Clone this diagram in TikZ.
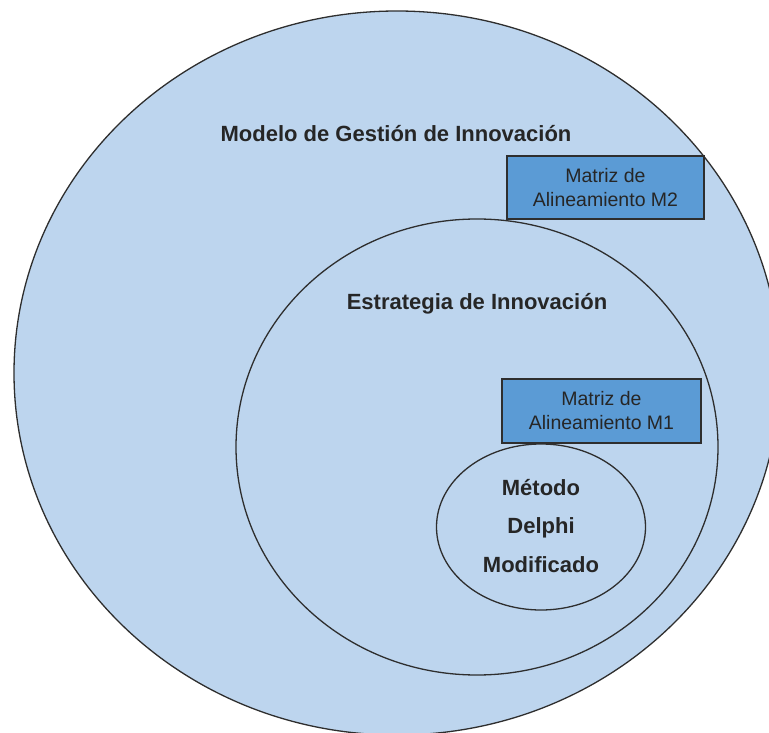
\documentclass[tikz,border=0pt]{standalone}
\usepackage{fontspec}
\setmainfont{Liberation Sans}
\usetikzlibrary{shapes.geometric}
\definecolor{ringblue}{HTML}{BDD5EE}
\definecolor{boxblue}{HTML}{5B9BD5}
\definecolor{edge}{HTML}{2E2E2E}
\tikzset{
  ring/.style={ellipse,draw=edge,fill=ringblue,line width=1.3pt,inner sep=0pt},
  matrixbox/.style={rectangle,draw=edge,fill=boxblue,line width=1.4pt,inner sep=0pt,
    align=center,font=\fontsize{19.5}{24}\selectfont,text=black!85},
  title/.style={font=\bfseries\fontsize{22}{26}\selectfont,text=black!85}
}
\begin{document}
\begin{tikzpicture}[x=1pt,y=-1pt]
\clip (0,0) rectangle (769,733);
\fill[white] (0,0) rectangle (769,733);
\node[ring,minimum width=766pt,minimum height=724pt] (modelo) at (397,373) {};
\node[title] (modelotxt) at (396,134) {Modelo de Gestión de Innovación};
\node[ring,minimum width=482pt,minimum height=456pt] (estrategia) at (477,447) {};
\node[title] (estrategiatxt) at (477,304) {Estrategia de Innovación};
\node[ring,minimum width=209pt,minimum height=166pt] (delphi) at (541,527) {};
\node[title,align=center,font=\bfseries\fontsize{22}{38.5}\selectfont] (delphitxt) at (541,526) {Método\\Delphi\\Modificado};
\node[matrixbox,minimum width=197pt,minimum height=63pt] (mdos) at (605.5,187.5) {Matriz de\\Alineamiento M2};
\node[matrixbox,minimum width=199pt,minimum height=64pt] (muno) at (601.5,411) {Matriz de\\Alineamiento M1};
\end{tikzpicture}
\end{document}
